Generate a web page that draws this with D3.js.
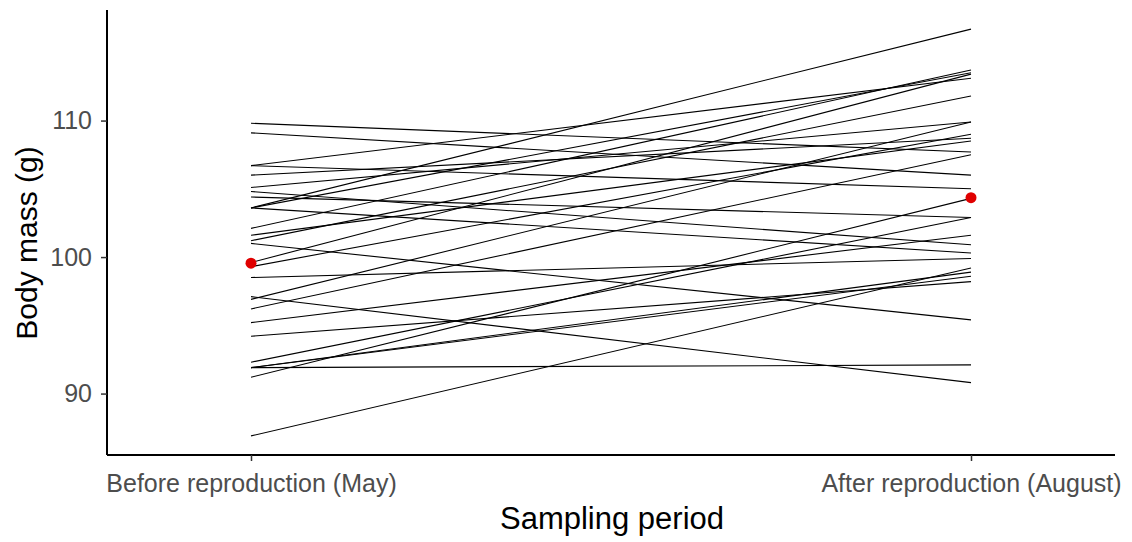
<!DOCTYPE html>
<html><head><meta charset="utf-8">
<script src="https://cdn.jsdelivr.net/npm/d3@7"></script>
<style>body{margin:0;background:#fff;font-family:Arial,"Liberation Sans",sans-serif;}</style>
</head><body>
<svg id="chart" width="1132" height="542"></svg>
<script>
const periods = ["Before reproduction (May)", "After reproduction (August)"];
const massBefore = [109.8,109.1,106.7,106.7,106.0,105.1,104.8,104.4,103.6,103.6,103.6,102.1,101.6,101.2,101.0,99.6,99.3,98.5,97.1,96.9,96.2,95.2,94.2,92.3,91.9,91.9,91.9,91.2,86.9];
const massAfter  = [107.7,106.0,113.1,105.0,108.7,109.9,100.9,102.9,116.7,113.5,100.3,113.7,108.5,111.8,95.4,113.4,109.0,99.9,90.8,109.9,107.5,101.6,98.2,102.9,92.1,98.9,98.6,104.3,99.2];
const meanMass = [99.55, 104.35];
const yTicks = [90, 100, 110];

const svg = d3.select("#chart");
const x = d3.scalePoint().domain(periods).range([107, 1115]).padding(0.2);
const y = d3.scaleLinear().domain([85.5, 118.1]).range([455, 10]);

const g = svg.append("g");
massBefore.forEach((b, i) => {
  g.append("line")
    .attr("x1", x(periods[0])).attr("y1", y(b))
    .attr("x2", x(periods[1])).attr("y2", y(massAfter[i]))
    .attr("stroke", "#000").attr("stroke-width", 1.1);
});
svg.append("g").selectAll("circle").data(meanMass).join("circle")
  .attr("cx", (d, i) => x(periods[i])).attr("cy", d => y(d))
  .attr("r", 5.5).attr("fill", "#e00000");

const yAxis = svg.append("g").attr("transform", "translate(107,0)")
  .call(d3.axisLeft(y).tickValues(yTicks).tickSize(6).tickPadding(9));
const xAxis = svg.append("g").attr("transform", "translate(0,455)")
  .call(d3.axisBottom(x).tickSize(6).tickPadding(13));
[yAxis, xAxis].forEach(a => {
  a.select(".domain").attr("stroke", "#000").attr("stroke-width", 2);
  a.selectAll(".tick line").attr("stroke", "#333").attr("stroke-width", 1.5);
  a.selectAll(".tick text").attr("fill", "#4d4d4d").style("font-size", "25px")
    .style("font-family", "Arial, 'Liberation Sans', sans-serif");
});
yAxis.select(".domain").attr("d", "M0,10V455");
xAxis.select(".domain").attr("d", "M107,0H1115");

svg.append("text").attr("x", 612).attr("y", 529).attr("text-anchor", "middle")
  .style("font-size", "31px").text("Sampling period");
svg.append("text").attr("transform", "translate(37,243) rotate(-90)").attr("text-anchor", "middle")
  .style("font-size", "30px").text("Body mass (g)");
</script>
</body></html>
